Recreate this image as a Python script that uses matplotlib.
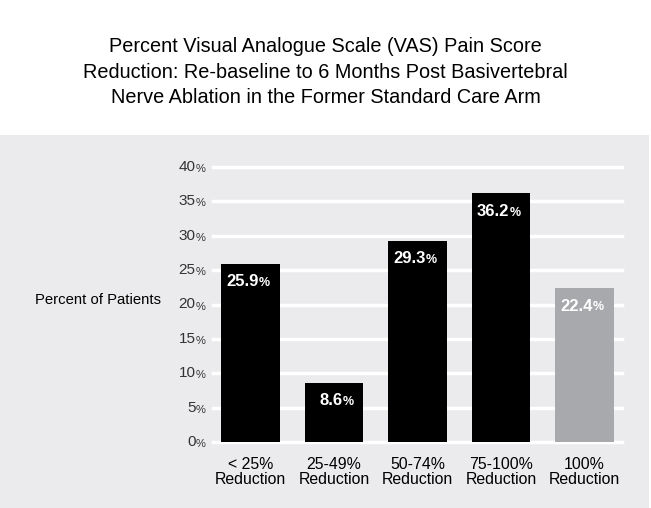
import numpy as np
import matplotlib.pyplot as plt
from matplotlib.patches import Rectangle
import matplotlib.transforms as mtransforms

plt.rcParams['font.family'] = ['Liberation Sans', 'DejaVu Sans']

categories = ['< 25%\nReduction', '25-49%\nReduction', '50-74%\nReduction',
              '75-100%\nReduction', '100%\nReduction']
values = [25.9, 8.6, 29.3, 36.2, 22.4]
colors = ['black', 'black', 'black', 'black', '#a7a9ac']
yticks = [0, 5, 10, 15, 20, 25, 30, 35, 40]

fig = plt.figure(figsize=(6.51, 5.08), dpi=100)
fig.patch.set_facecolor('white')

# grey panel behind the chart
fig.patches.append(Rectangle((0, 0), 649 / 651, 373 / 508, transform=fig.transFigure,
                             facecolor='#ebebed', edgecolor='none', zorder=-10))

fig.text(0.5, 0.858, 'Percent Visual Analogue Scale (VAS) Pain Score\n'
         'Reduction: Re-baseline to 6 Months Post Basivertebral\n'
         'Nerve Ablation in the Former Standard Care Arm',
         ha='center', va='center', fontsize=14.3, linespacing=1.42)

ax = fig.add_axes([213 / 651, 66 / 508, 409 / 651, 275 / 508])
ax.set_facecolor('none')
x = np.arange(len(values))
ax.bar(x, values, width=0.7, color=colors, zorder=3)
for t in yticks:
    ax.axhline(t, color='white', lw=2.5, zorder=1, clip_on=False)
ax.set_xlim(-0.45, 4.45)
ax.set_ylim(0, 40)
for s in ax.spines.values():
    s.set_visible(False)
ax.set_yticks([])
ax.set_xticks(x)
ax.set_xticklabels(categories, fontsize=11.4, linespacing=1.0)
ax.tick_params(axis='x', length=0, pad=11)

# y tick labels with small percent sign
trans = mtransforms.blended_transform_factory(ax.transAxes, ax.transData)
for t in yticks:
    ax.text(-0.043, t, str(t), transform=trans, ha='right', va='center',
            fontsize=11, color='#333333')
    ax.text(-0.043, t - 0.3, '%', transform=trans, ha='left', va='center',
            fontsize=8, color='#333333')

# value labels inside bars
for xi, v in zip(x, values):
    ax.annotate(f'{v:.1f}', (xi + 0.1, v), xytext=(0, -13), textcoords='offset points',
                ha='right', va='center', color='white', fontsize=12, fontweight='bold', zorder=4)
    ax.annotate('%', (xi + 0.1, v), xytext=(0, -14), textcoords='offset points',
                ha='left', va='center', color='white', fontsize=9, fontweight='bold', zorder=4)

fig.text(35 / 651, 0.409, 'Percent of Patients', ha='left', va='center', fontsize=10.7)

fig.savefig('out.png', dpi=100)
